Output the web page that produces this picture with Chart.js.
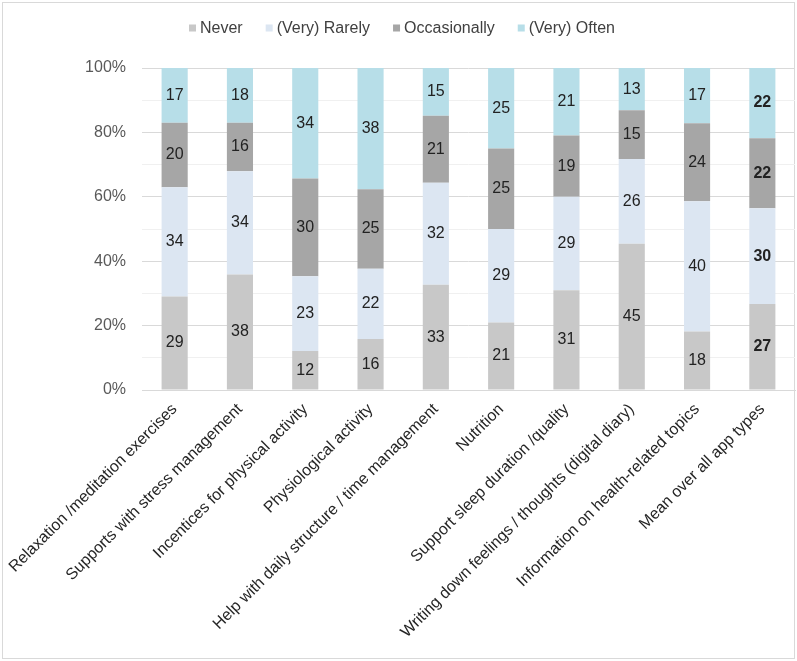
<!DOCTYPE html>
<html>
<head>
<meta charset="utf-8">
<title>App use by type</title>
<script src="https://cdn.jsdelivr.net/npm/chart.js@4.4.0/dist/chart.umd.min.js"></script>
<style>
  html, body { margin: 0; padding: 0; background: #fff; }
  #wrap { width: 797px; height: 661px; }
</style>
</head>
<body>
<div id="wrap"><canvas id="appChart" width="797" height="661"></canvas></div>
<script>
// categories along the x axis
const categories = [
  'Relaxation /meditation exercises',
  'Supports with stress management',
  'Incentices for physical activity',
  'Physiological activity',
  'Help with daily structure / time management',
  'Nutrition',
  'Support sleep duration /quality',
  'Writing down feelings / thoughts (digital diary)',
  'Information on health-related topics',
  'Mean over all app types'
];

// series values as printed on the bars
const seriesNames = ['Never', '(Very) Rarely', 'Occasionally', '(Very) Often'];
const never        = [29, 38, 12, 16, 33, 21, 31, 45, 18, 27];
const rarely       = [34, 34, 23, 22, 32, 29, 29, 26, 40, 30];
const occasionally = [20, 16, 30, 25, 21, 25, 19, 15, 24, 22];
const often        = [17, 18, 34, 38, 15, 25, 21, 13, 17, 22];

// y axis labels (every 20%)
const yTicks = [0, 20, 40, 60, 80, 100];

const colors = ['#c8c8c8', '#dce6f2', '#a6a6a6', '#b7dee8'];
const FONT = '"Liberation Sans", Arial, sans-serif';

const raw = [never, rarely, occasionally, often];
const totals = categories.map((_, i) => raw.reduce((s, arr) => s + arr[i], 0));
// bars are drawn as share of each category's total (100% stacked)
const toPct = arr => arr.map((v, i) => v / totals[i] * 100);

const datasets = raw.map((arr, k) => ({
  label: seriesNames[k],
  data: toPct(arr),
  rawValues: arr,
  backgroundColor: colors[k],
  borderWidth: 0,
  categoryPercentage: 1,
  barPercentage: 0.4
}));

// white background + thin frame round the picture
const framePlugin = {
  id: 'frame',
  beforeDraw(chart) {
    const ctx = chart.ctx;
    ctx.save();
    ctx.fillStyle = '#fff';
    ctx.fillRect(0, 0, chart.width, chart.height);
    ctx.strokeStyle = '#d9d9d9';
    ctx.lineWidth = 1;
    ctx.strokeRect(2.5, 2.5, chart.width - 5, chart.height - 5);
    ctx.restore();
  }
};

// numbers in the middle of each segment
const valueLabels = {
  id: 'valueLabels',
  afterDatasetsDraw(chart) {
    const ctx = chart.ctx;
    ctx.save();
    ctx.textAlign = 'center';
    ctx.textBaseline = 'middle';
    ctx.fillStyle = '#222';
    chart.data.datasets.forEach((ds, di) => {
      const meta = chart.getDatasetMeta(di);
      meta.data.forEach((bar, i) => {
        const last = i === categories.length - 1;
        ctx.font = (last ? 'bold ' : '') + '16px ' + FONT;
        ctx.fillText(String(ds.rawValues[i]), bar.x, (bar.y + bar.base) / 2);
      });
    });
    ctx.restore();
  }
};

// legend row at the top, small squares like the original
const topLegend = {
  id: 'topLegend',
  afterDraw(chart) {
    const ctx = chart.ctx;
    const box = 7, gap = 4, spacing = 23, cy = 28, cx = 402;
    ctx.save();
    ctx.font = '16px ' + FONT;
    ctx.textBaseline = 'middle';
    const items = chart.data.datasets.map(ds => ({
      text: ds.label,
      color: ds.backgroundColor,
      w: box + gap + ctx.measureText(ds.label).width
    }));
    const total = items.reduce((s, it) => s + it.w, 0) + spacing * (items.length - 1);
    let x = cx - total / 2;
    items.forEach(it => {
      ctx.fillStyle = it.color;
      ctx.fillRect(x, cy - box / 2, box, box);
      ctx.fillStyle = '#404040';
      ctx.fillText(it.text, x + box + gap, cy + 1);
      x += it.w + spacing;
    });
    ctx.restore();
  }
};

new Chart(document.getElementById('appChart'), {
  type: 'bar',
  data: { labels: categories, datasets },
  options: {
    responsive: false,
    animation: false,
    devicePixelRatio: 1,
    layout: { padding: { top: 68, right: 2, bottom: 0, left: 0 } },
    plugins: {
      legend: { display: false },
      tooltip: { enabled: false }
    },
    scales: {
      x: {
        stacked: true,
        grid: { display: false },
        border: { color: '#d9d9d9' },
        ticks: {
          minRotation: 45,
          maxRotation: 45,
          autoSkip: false,
          padding: 2,
          color: '#262626',
          font: { family: FONT, size: 16 }
        },
        afterFit(scale) {
          scale.height = 271;
          scale.paddingLeft = 0;
          scale.paddingRight = 0;
        }
      },
      y: {
        stacked: true,
        min: 0,
        max: 100,
        border: { display: false },
        grid: {
          drawTicks: false,
          color: ctx => (ctx.tick && yTicks.includes(ctx.tick.value)) ? '#d9d9d9' : '#f0f0f0'
        },
        ticks: {
          stepSize: 10,
          autoSkip: false,
          padding: 16,
          color: '#595959',
          font: { family: FONT, size: 16 },
          callback: v => yTicks.includes(v) ? v + '%' : ''
        },
        afterFit(scale) {
          scale.width = 142;
        }
      }
    }
  },
  plugins: [framePlugin, valueLabels, topLegend]
});
</script>
</body>
</html>
